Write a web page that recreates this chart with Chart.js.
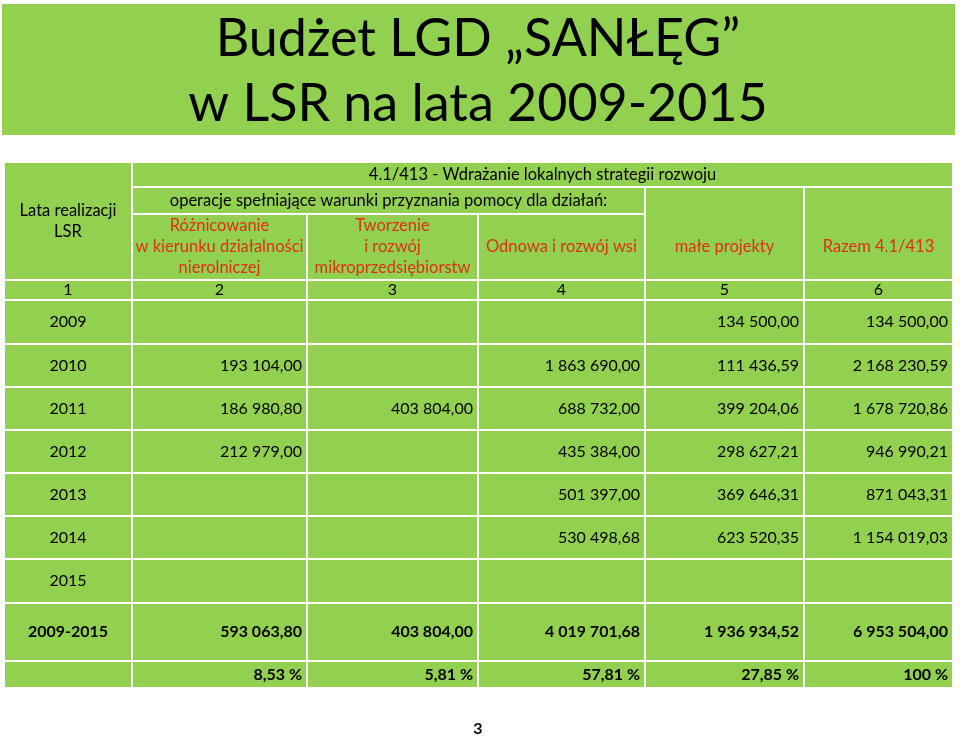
<!DOCTYPE html>
<html lang="pl">
<head>
<meta charset="utf-8">
<title>Budżet LGD SANŁĘG</title>
<script src="https://cdn.jsdelivr.net/npm/chart.js@4"></script>
<style>
  body { margin: 0; background: #fff; }
  canvas { display: block; }
</style>
</head>
<body>
<canvas id="chart" width="960" height="737"></canvas>
<script>
// DANE
const years = ["2009", "2010", "2011", "2012", "2013", "2014", "2015"];
const roznicowanie = [null, 193104.00, 186980.80, 212979.00, null, null, null];
const tworzenie = [null, null, 403804.00, null, null, null, null];
const odnowa = [null, 1863690.00, 688732.00, 435384.00, 501397.00, 530498.68, null];
const maleProjekty = [134500.00, 111436.59, 399204.06, 298627.21, 369646.31, 623520.35, null];
const razem = [134500.00, 2168230.59, 1678720.86, 946990.21, 871043.31, 1154019.03, null];
const totals = [593063.80, 403804.00, 4019701.68, 1936934.52, 6953504.00];
const shares = ["8,53 %", "5,81 %", "57,81 %", "27,85 %", "100 %"];
const columnNumbers = ["1", "2", "3", "4", "5", "6"];

const title = ["Budżet LGD „SANŁĘG”", "w LSR na lata 2009-2015"];
const headMain = "4.1/413 - Wdrażanie lokalnych strategii rozwoju";
const headSub = "operacje spełniające warunki przyznania pomocy dla działań:";
const headYears = ["Lata realizacji", "LSR"];
const headCols = [
  ["Różnicowanie", "w kierunku działalności", "nierolniczej"],
  ["Tworzenie", "i rozwój", "mikroprzedsiębiorstw"],
  ["Odnowa i rozwój wsi"],
  ["małe projekty"],
  ["Razem 4.1/413"]
];

// UKŁAD
const colEdges = [4, 132, 307, 478, 645, 804, 953];
const rowEdges = [162, 187, 214, 280, 300, 344, 387, 430, 473, 516, 559, 603, 661, 688];
const GREEN = "#92d050";
const RED = "#dc3214";
const FONT = "Lato, 'Noto Sans', sans-serif";

const fmt = (v) => {
  if (v === null) return "";
  const [i, d] = v.toFixed(2).split(".");
  return i.replace(/\B(?=(\d{3})+(?!\d))/g, " ") + "," + d;
};

((d) => {
  // komórki tabeli: kolumny c0..c1, wiersze r0..r1 (indeksy krawędzi)
  const cells = [];
  const add = (c0, c1, r0, r1, lines, opts = {}) => cells.push({ c0, c1, r0, r1, lines, size: 16, ...opts });

  add(0, 1, 0, 3, headYears, { size: 16.5 });
  add(1, 6, 0, 1, [headMain], { size: 16.5 });
  add(1, 4, 1, 2, [headSub], { size: 16.5 });
  add(4, 5, 1, 3, headCols[3], { color: RED, tr: 2, size: 16.5 });
  add(5, 6, 1, 3, headCols[4], { color: RED, tr: 2, size: 16.5 });
  for (let c = 0; c < 3; c++) add(c + 1, c + 2, 2, 3, headCols[c], { color: RED, size: 16.5 });
  columnNumbers.forEach((n, c) => add(c, c + 1, 3, 4, [n]));

  const series = [roznicowanie, tworzenie, odnowa, maleProjekty, razem];
  years.forEach((y, r) => {
    add(0, 1, r + 4, r + 5, [y]);
    series.forEach((s, c) => add(c + 1, c + 2, r + 4, r + 5, [fmt(s[r])], { align: "right" }));
  });
  const tr = years.length + 4;
  add(0, 1, tr, tr + 1, ["2009-2015"], { bold: true });
  totals.forEach((v, c) => add(c + 1, c + 2, tr, tr + 1, [fmt(v)], { align: "right", bold: true }));
  add(0, 1, tr + 1, tr + 2, [""]);
  shares.forEach((s, c) => add(c + 1, c + 2, tr + 1, tr + 2, [s], { align: "right", bold: true }));

  const tablePlugin = {
    id: "table",
    beforeDraw(chart) {
      const { ctx, scales: { x, y } } = chart;
      const px = (v) => x.getPixelForValue(v);
      const py = (v) => y.getPixelForValue(v);

      ctx.save();
      ctx.fillStyle = "#fff";
      ctx.fillRect(0, 0, chart.width, chart.height);

      // tytuł
      ctx.fillStyle = GREEN;
      ctx.fillRect(px(2), py(4), px(955) - px(2), py(135) - py(4));
      ctx.fillStyle = "#000";
      ctx.font = `52px ${FONT}`;
      ctx.textAlign = "center";
      ctx.textBaseline = "middle";
      ctx.fillText(title[0], px(478), py(39));
      ctx.fillText(title[1], px(478), py(104));

      cells.forEach((cell) => {
        const x0 = px(colEdges[cell.c0]), x1 = px(colEdges[cell.c1]);
        const y0 = py(rowEdges[cell.r0]), y1 = py(rowEdges[cell.r1]);
        ctx.fillStyle = GREEN;
        ctx.fillRect(x0 + 1, y0 + 1, x1 - x0 - 2, y1 - y0 - 2);

        ctx.fillStyle = cell.color || "#000";
        ctx.font = `${cell.bold ? "bold " : ""}${cell.size}px ${FONT}`;
        const lh = 21;
        const ty0 = cell.tr !== undefined ? py(rowEdges[cell.tr]) : y0;
        const cy = (ty0 + y1) / 2 - ((cell.lines.length - 1) * lh) / 2;
        let tx = (x0 + x1) / 2;
        ctx.textAlign = "center";
        if (cell.align === "right") {
          tx = x1 - 5;
          ctx.textAlign = "right";
        }
        cell.lines.forEach((line, i) => ctx.fillText(line, tx, cy + i * lh));
      });

      // numer strony
      ctx.fillStyle = "#000";
      ctx.font = `bold 16px ${FONT}`;
      ctx.textAlign = "center";
      ctx.fillText("3", px(478), py(729));
      ctx.restore();
    }
  };

  new Chart(d.getElementById("chart"), {
    type: "scatter",
    data: { datasets: [] },
    options: {
      responsive: false,
      animation: false,
      devicePixelRatio: 1,
      layout: { padding: 0 },
      plugins: { legend: { display: false }, tooltip: { enabled: false } },
      scales: {
        x: { type: "linear", min: 0, max: 960, display: false },
        y: { type: "linear", min: 0, max: 737, reverse: true, display: false }
      }
    },
    plugins: [tablePlugin]
  });
})(document);
</script>
</body>
</html>
